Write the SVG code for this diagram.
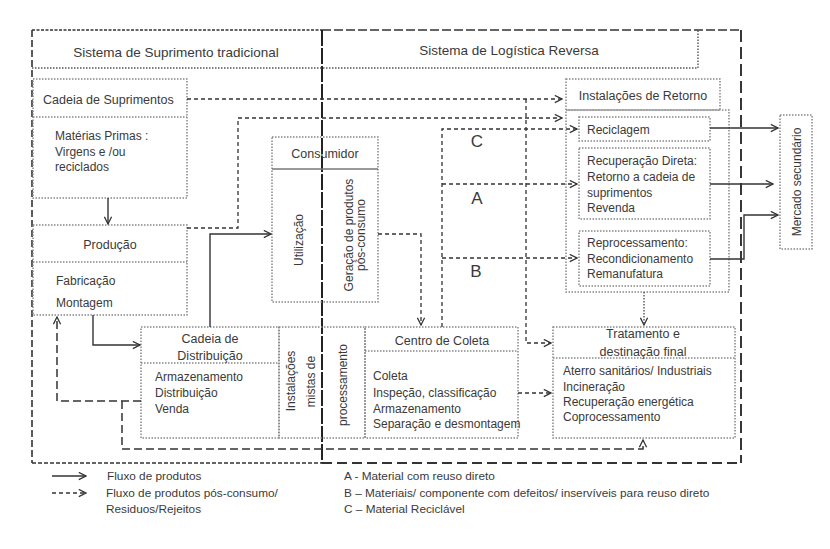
<svg xmlns="http://www.w3.org/2000/svg" width="830" height="549" viewBox="0 0 830 549">
  <defs>
    <marker id="arrow" viewBox="0 0 10 10" refX="9" refY="5" markerWidth="9" markerHeight="9" markerUnits="userSpaceOnUse" orient="auto">
      <path d="M1,1 L9,5 L1,9" fill="none" stroke="#333" stroke-width="1.4"/>
    </marker>
  </defs>
  <style>
    text { font-family: "Liberation Sans", Arial, sans-serif; fill: #3a3a3a; font-size: 12px; }
    .hdr { font-size: 13.5px; }
    .mid { text-anchor: middle; }
    .big { font-size: 17px; }
    .leg { font-size: 11.8px; }
    .box { fill: none; stroke: #888; stroke-width: 1.5; stroke-dasharray: 1.5 1.5; }
    .sep { fill: none; stroke: #888; stroke-width: 1.5; stroke-dasharray: 1.5 1.5; }
    .solid { fill: none; stroke: #333; stroke-width: 1.4; }
    .dash { fill: none; stroke: #333; stroke-width: 1.3; stroke-dasharray: 4 3; }
    .ldash { fill: none; stroke: #333; stroke-width: 1.5; stroke-dasharray: 8 4; }
    .dot { fill: none; stroke: #555; stroke-width: 1.4; stroke-dasharray: 1.5 1.5; }
  </style>
  <rect width="830" height="549" fill="#fff"/>

  <!-- outer frame: traditional supply system (left) and reverse logistics (right) -->
  <g id="frame">
    <line x1="32" y1="30" x2="322" y2="30" stroke="#333" stroke-width="1.5" stroke-dasharray="3 1.5"/>
    <line x1="322" y1="30" x2="741" y2="30" stroke="#333" stroke-width="1.6" stroke-dasharray="9 3"/>
    <line x1="32" y1="30" x2="32" y2="463" stroke="#333" stroke-width="1.6" stroke-dasharray="7 3"/>
    <line x1="32" y1="463" x2="322" y2="463" stroke="#333" stroke-width="1.5" stroke-dasharray="4 2"/>
    <line x1="322" y1="463" x2="741" y2="463" stroke="#333" stroke-width="1.8" stroke-dasharray="10 5"/>
    <line x1="741" y1="30" x2="741" y2="463" stroke="#222" stroke-width="1.8" stroke-dasharray="12 5"/>
    <line x1="322" y1="30" x2="322" y2="463" stroke="#222" stroke-width="2" stroke-dasharray="16 2"/>
    <polyline class="dot" points="32,68 698,68 698,30"/>
    <text class="hdr mid" x="176" y="56.5">Sistema de Suprimento tradicional</text>
    <text class="hdr mid" x="509" y="55">Sistema de Logística Reversa</text>
  </g>

  <g id="cadeia-suprimentos">
    <rect class="box" x="33" y="79" width="154" height="119"/>
    <line class="sep" x1="33" y1="117" x2="187" y2="117"/>
    <text x="43" y="103.5" style="font-size:12.5px">Cadeia de Suprimentos</text>
    <text x="55" y="140">Matérias Primas :</text>
    <text x="55" y="156">Virgens e /ou</text>
    <text x="55" y="171">reciclados</text>
  </g>

  <g id="producao">
    <rect class="box" x="33" y="225" width="154" height="90"/>
    <line class="sep" x1="33" y1="262" x2="187" y2="262"/>
    <text class="mid" x="110" y="248.5" style="font-size:12.5px">Produção</text>
    <text x="56" y="284.5">Fabricação</text>
    <text x="56" y="306.5">Montagem</text>
  </g>

  <g id="consumidor">
    <rect class="box" x="272" y="137" width="106" height="165"/>
    <line x1="272" y1="169" x2="378" y2="169" stroke="#777" stroke-width="1.5"/>
    <text class="mid" x="325" y="157.5" style="font-size:12.5px">Consumidor</text>
    <text class="mid" transform="translate(302.5,240) rotate(-90)">Utilização</text>
    <text class="mid" transform="translate(352.5,235) rotate(-90)">Geração de produtos</text>
    <text class="mid" transform="translate(364.5,235) rotate(-90)">pós-consumo</text>
  </g>

  <g id="cadeia-distribuicao">
    <rect class="box" x="141" y="327" width="138" height="111"/>
    <line class="sep" x1="141" y1="363" x2="279" y2="363"/>
    <text class="mid" x="210" y="342.5" style="font-size:12.5px">Cadeia de</text>
    <text class="mid" x="210" y="359.5" style="font-size:12.5px">Distribuição</text>
    <text x="155" y="380.5">Armazenamento</text>
    <text x="155" y="396.5">Distribuição</text>
    <text x="155" y="412.5">Venda</text>
  </g>

  <g id="instalacoes-mistas">
    <rect class="box" x="279" y="327" width="86" height="111"/>
    <text class="mid" transform="translate(294.5,381) rotate(-90)">Instalações</text>
    <text class="mid" transform="translate(314.5,381.5) rotate(-90)">mistas de</text>
    <text class="mid" transform="translate(346.5,385) rotate(-90)">processamento</text>
  </g>

  <g id="centro-coleta">
    <rect class="box" x="365" y="327" width="153" height="111"/>
    <line class="sep" x1="365" y1="351" x2="518" y2="351"/>
    <text class="mid" x="442" y="344.5" style="font-size:12.5px">Centro de Coleta</text>
    <text x="373" y="379.5">Coleta</text>
    <text x="373" y="396.5">Inspeção, classificação</text>
    <text x="373" y="412.5">Armazenamento</text>
    <text x="373" y="427.5">Separação e desmontagem</text>
  </g>

  <g id="instalacoes-retorno">
    <rect class="box" x="566" y="79" width="154" height="31"/>
    <rect class="box" x="566" y="110" width="163" height="182"/>
    <text class="mid" x="643" y="99.5" style="font-size:12.5px">Instalações de Retorno</text>
    <g id="reciclagem">
      <rect class="box" x="579" y="117" width="131" height="24"/>
      <text x="587" y="133.5">Reciclagem</text>
    </g>
    <g id="recuperacao-direta">
      <rect class="box" x="579" y="148" width="131" height="71"/>
      <text x="587" y="164.5">Recuperação Direta:</text>
      <text x="587" y="180.5">Retorno a cadeia de</text>
      <text x="587" y="196.5">suprimentos</text>
      <text x="587" y="211.5">Revenda</text>
    </g>
    <g id="reprocessamento">
      <rect class="box" x="579" y="231" width="131" height="55"/>
      <text x="587" y="247">Reprocessamento:</text>
      <text x="587" y="262.5">Recondicionamento</text>
      <text x="587" y="277.5">Remanufatura</text>
    </g>
  </g>

  <g id="mercado-secundario">
    <rect class="box" x="780" y="115" width="32" height="134"/>
    <text class="mid" transform="translate(801,182) rotate(-90)">Mercado secundário</text>
  </g>

  <g id="tratamento">
    <rect class="box" x="553" y="327" width="182" height="111"/>
    <line class="sep" x1="553" y1="358" x2="735" y2="358"/>
    <text class="mid" x="643" y="337.5" style="font-size:12.5px">Tratamento e</text>
    <text class="mid" x="643" y="356" style="font-size:12.5px">destinação final</text>
    <text x="563" y="375">Aterro  sanitários/ Industriais</text>
    <text x="563" y="390.5">Incineração</text>
    <text x="563" y="405.5">Recuperação energética</text>
    <text x="563" y="421">Coprocessamento</text>
  </g>

  <g id="connectors">
    <!-- product flow -->
    <polyline class="solid" points="108,198 108,224" marker-end="url(#arrow)"/>
    <polyline class="solid" points="93,315 93,345 140,345" marker-end="url(#arrow)"/>
    <polyline class="solid" points="210,327 210,234 271,234" marker-end="url(#arrow)"/>
    <polyline class="solid" points="710,128 778,128" marker-end="url(#arrow)"/>
    <polyline class="solid" points="710,184 773,184" marker-end="url(#arrow)"/>
    <polyline class="solid" points="710,259 744,259 744,215 778,215" marker-end="url(#arrow)"/>
    <!-- post-consumption flow -->
    <polyline class="dash" points="187,99 562,99" marker-end="url(#arrow)"/>
    <polyline class="dash" points="187,228 238,228 238,118 562,118" marker-end="url(#arrow)"/>
    <polyline class="dash" points="378,234 421,234 421,325" marker-end="url(#arrow)"/>
    <polyline class="dash" points="442,327 442,129 577,129" marker-end="url(#arrow)"/>
    <polyline class="dash" points="442,184 577,184" marker-end="url(#arrow)"/>
    <polyline class="dash" points="442,258 577,258" marker-end="url(#arrow)"/>
    <polyline class="dash" points="526,99 526,343 551,343" marker-end="url(#arrow)"/>
    <polyline class="dash" points="518,393 551,393" marker-end="url(#arrow)"/>
    <polyline class="ldash" points="141,401 57,401 57,317" marker-end="url(#arrow)"/>
    <polyline class="ldash" points="122,401 122,449 643,449 643,440" marker-end="url(#arrow)"/>
    <polyline class="dot" points="644,292 644,325" marker-end="url(#arrow)"/>
    <text class="big mid" x="477" y="146.5">C</text>
    <text class="big mid" x="477" y="204">A</text>
    <text class="big mid" x="476" y="277">B</text>
  </g>

  <g id="legend">
    <polyline class="solid" points="52,476 86,476" marker-end="url(#arrow)"/>
    <polyline class="dash" points="52,493 86,493" marker-end="url(#arrow)"/>
    <text class="leg" x="107" y="480">Fluxo de produtos</text>
    <text class="leg" x="106" y="497">Fluxo de produtos pós-consumo/</text>
    <text class="leg" x="106" y="513">Residuos/Rejeitos</text>
    <text class="leg" x="344" y="480">A -  Material com reuso direto</text>
    <text class="leg" x="344" y="497">B – Materiais/ componente com defeitos/ inservíveis para reuso direto</text>
    <text class="leg" x="344" y="513">C – Material Reciclável</text>
  </g>
</svg>
